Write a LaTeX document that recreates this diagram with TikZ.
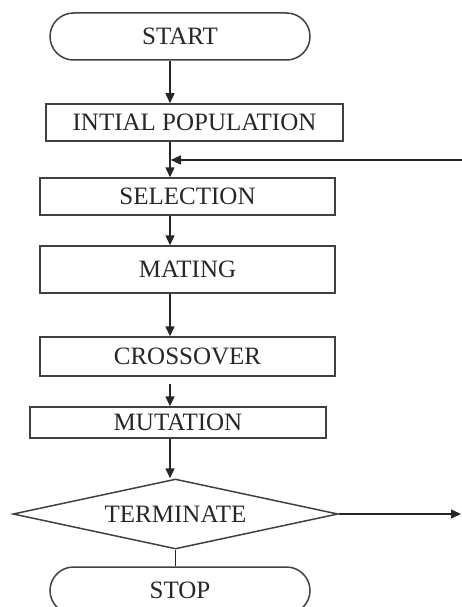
\documentclass[tikz,border=0pt]{standalone}
\usepackage{fontspec}
\setmainfont{Liberation Serif}
\usetikzlibrary{shapes.misc,shapes.geometric,arrows.meta}
\begin{document}
\begin{tikzpicture}[x=1pt,y=-1pt,
  every node/.style={font=\fontsize{25}{29}\selectfont, text=black!85, inner sep=0pt},
  boxnode/.style={draw=black!75, line width=1.5pt, rectangle},
  termnode/.style={draw=black!75, line width=1.5pt, rounded rectangle, minimum width=260pt, minimum height=47pt},
  decnode/.style={draw=black!75, line width=1.5pt, diamond, aspect=4.6, minimum width=325pt, minimum height=70pt},
  conn/.style={draw=black!85, line width=1.5pt},
  arr/.style={conn, -{Triangle[length=10pt,width=9pt]}}]
\useasboundingbox (0,0) rectangle (462,607);
\clip (0,0) rectangle (462,607);
\node[termnode] (start) at (180,36.5) {START};
\node[boxnode, minimum width=297pt, minimum height=37pt] (init) at (194.5,122.5) {INTIAL POPULATION};
\node[boxnode, minimum width=295pt, minimum height=37pt] (sel) at (187.5,196.5) {SELECTION};
\node[boxnode, minimum width=295pt, minimum height=47pt] (mat) at (187.5,269.5) {MATING};
\node[boxnode, minimum width=295pt, minimum height=39pt] (cross) at (187.5,356.5) {CROSSOVER};
\node[boxnode, minimum width=296pt, minimum height=31pt] (mut) at (178,422.5) {MUTATION};
\node[decnode] (term) at (175.5,514) {TERMINATE};
\node[termnode] (stop) at (180,590.5) {STOP};
\coordinate (ax) at (170,0);
\coordinate (fb) at (462,160);
\coordinate (out) at (461,514);
\draw[arr] (start.south -| ax) -- (init.north -| ax);
\draw[arr] (init.south -| ax) -- (sel.north -| ax);
\draw[arr, shorten >=0.8pt] (fb) -- (fb -| ax);
\draw[arr] (sel.south -| ax) -- (mat.north -| ax);
\draw[arr] (mat.south -| ax) -- (cross.north -| ax);
\draw[arr, shorten <=7pt] (cross.south -| ax) -- (mut.north -| ax);
\draw[arr] (mut.south -| ax) -- (term.north -| ax);
\draw[conn] (term.south) -- (stop.north -| term.south);
\draw[arr] (term.east) -- (out);
\end{tikzpicture}
\end{document}
